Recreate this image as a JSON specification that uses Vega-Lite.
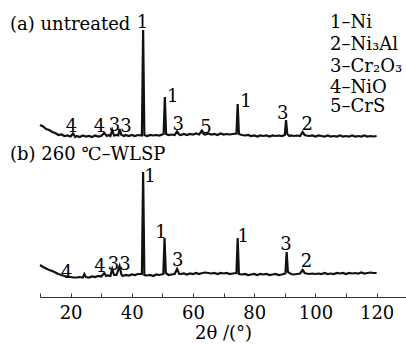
{
  "$schema": "https://vega.github.io/schema/vega-lite/v6.json",
  "autosize": {"type": "none"},
  "width": 366,
  "height": 297,
  "padding": {"left": 40, "top": 0, "right": 0, "bottom": 48},
  "background": "white",
  "config": {"view": {"stroke": null}, "font": "DejaVu Serif"},
  "datasets": {
    "trace": [
      {"s":"a","theta":10,"I":172},{"s":"a","theta":11,"I":170.5},{"s":"a","theta":12,"I":168},{"s":"a","theta":13,"I":167},{"s":"a","theta":14,"I":165},{"s":"a","theta":15,"I":164},{"s":"a","theta":16,"I":162},{"s":"a","theta":17,"I":162.5},{"s":"a","theta":18,"I":161},{"s":"a","theta":19,"I":161.5},{"s":"a","theta":20,"I":160.5},{"s":"a","theta":20.8,"I":163.5},{"s":"a","theta":21.5,"I":160},{"s":"a","theta":22,"I":161},{"s":"a","theta":23,"I":160},{"s":"a","theta":24,"I":161.5},{"s":"a","theta":25,"I":160.5},{"s":"a","theta":26,"I":161},{"s":"a","theta":27,"I":160},{"s":"a","theta":28,"I":161.5},{"s":"a","theta":29,"I":160.5},{"s":"a","theta":30,"I":161},{"s":"a","theta":31,"I":164},{"s":"a","theta":31.8,"I":161},{"s":"a","theta":32.5,"I":162},{"s":"a","theta":33,"I":161},{"s":"a","theta":33.6,"I":167},{"s":"a","theta":34.2,"I":161.5},{"s":"a","theta":35,"I":162},{"s":"a","theta":35.6,"I":161.5},{"s":"a","theta":36,"I":168},{"s":"a","theta":36.6,"I":162},{"s":"a","theta":37.5,"I":161},{"s":"a","theta":38,"I":162},{"s":"a","theta":39,"I":161},{"s":"a","theta":40,"I":162},{"s":"a","theta":41,"I":161},{"s":"a","theta":42,"I":162},{"s":"a","theta":43.3,"I":161.5},{"s":"a","theta":43.7,"I":267},{"s":"a","theta":44.1,"I":162},{"s":"a","theta":45,"I":161},{"s":"a","theta":46,"I":162},{"s":"a","theta":47,"I":161.5},{"s":"a","theta":48,"I":162},{"s":"a","theta":49,"I":161.5},{"s":"a","theta":50.4,"I":163},{"s":"a","theta":50.8,"I":200},{"s":"a","theta":51.2,"I":163},{"s":"a","theta":52,"I":162},{"s":"a","theta":53,"I":162.5},{"s":"a","theta":54,"I":162},{"s":"a","theta":54.8,"I":165.5},{"s":"a","theta":55.5,"I":162.5},{"s":"a","theta":56,"I":162},{"s":"a","theta":57,"I":163},{"s":"a","theta":58,"I":162},{"s":"a","theta":59,"I":163},{"s":"a","theta":60,"I":162.5},{"s":"a","theta":61,"I":163.5},{"s":"a","theta":62,"I":162.5},{"s":"a","theta":62.8,"I":166},{"s":"a","theta":63.5,"I":163},{"s":"a","theta":64,"I":162.5},{"s":"a","theta":65,"I":163.5},{"s":"a","theta":66,"I":162.5},{"s":"a","theta":67,"I":163},{"s":"a","theta":68,"I":162},{"s":"a","theta":69,"I":163.5},{"s":"a","theta":70,"I":162.5},{"s":"a","theta":71,"I":163},{"s":"a","theta":72,"I":162.5},{"s":"a","theta":73,"I":163},{"s":"a","theta":74.2,"I":163.5},{"s":"a","theta":74.6,"I":193},{"s":"a","theta":75,"I":163},{"s":"a","theta":76,"I":162},{"s":"a","theta":77,"I":161.5},{"s":"a","theta":78,"I":162},{"s":"a","theta":79,"I":161},{"s":"a","theta":80,"I":161.5},{"s":"a","theta":81,"I":160.5},{"s":"a","theta":82,"I":161.5},{"s":"a","theta":83,"I":161},{"s":"a","theta":84,"I":161.5},{"s":"a","theta":85,"I":160.5},{"s":"a","theta":86,"I":161.5},{"s":"a","theta":87,"I":161},{"s":"a","theta":88,"I":161.5},{"s":"a","theta":89,"I":161},{"s":"a","theta":90,"I":162},{"s":"a","theta":90.4,"I":177},{"s":"a","theta":90.8,"I":163},{"s":"a","theta":91.5,"I":161},{"s":"a","theta":92,"I":161.5},{"s":"a","theta":93,"I":161},{"s":"a","theta":94,"I":161.5},{"s":"a","theta":95,"I":161},{"s":"a","theta":95.8,"I":165},{"s":"a","theta":96.5,"I":162},{"s":"a","theta":97,"I":161.5},{"s":"a","theta":98,"I":161},{"s":"a","theta":99,"I":161.5},{"s":"a","theta":100,"I":160.5},{"s":"a","theta":101,"I":161.5},{"s":"a","theta":102,"I":161},{"s":"a","theta":103,"I":160.5},{"s":"a","theta":104,"I":161.5},{"s":"a","theta":105,"I":160.5},{"s":"a","theta":106,"I":161},{"s":"a","theta":107,"I":160.5},{"s":"a","theta":108,"I":161.5},{"s":"a","theta":109,"I":160.5},{"s":"a","theta":110,"I":161},{"s":"a","theta":111,"I":160.5},{"s":"a","theta":112,"I":161.5},{"s":"a","theta":113,"I":160.5},{"s":"a","theta":114,"I":161},{"s":"a","theta":115,"I":160.5},{"s":"a","theta":116,"I":161.5},{"s":"a","theta":117,"I":160.5},{"s":"a","theta":118,"I":161},{"s":"a","theta":119,"I":160.5},{"s":"a","theta":120,"I":161},
      {"s":"b","theta":10,"I":32},{"s":"b","theta":11,"I":30},{"s":"b","theta":12,"I":28.5},{"s":"b","theta":13,"I":27},{"s":"b","theta":14,"I":26},{"s":"b","theta":15,"I":24.5},{"s":"b","theta":16,"I":23},{"s":"b","theta":17,"I":22},{"s":"b","theta":18,"I":21},{"s":"b","theta":19,"I":20.5},{"s":"b","theta":20,"I":20},{"s":"b","theta":21,"I":19.5},{"s":"b","theta":22,"I":19.5},{"s":"b","theta":23,"I":20},{"s":"b","theta":24,"I":19.5},{"s":"b","theta":24.5,"I":23},{"s":"b","theta":25,"I":20},{"s":"b","theta":26,"I":19.5},{"s":"b","theta":27,"I":20.5},{"s":"b","theta":28,"I":20},{"s":"b","theta":29,"I":21},{"s":"b","theta":30,"I":20.5},{"s":"b","theta":31,"I":24},{"s":"b","theta":31.6,"I":21},{"s":"b","theta":32,"I":21.5},{"s":"b","theta":33,"I":21},{"s":"b","theta":33.6,"I":28},{"s":"b","theta":34.2,"I":22},{"s":"b","theta":35,"I":22},{"s":"b","theta":36,"I":31},{"s":"b","theta":36.6,"I":22.5},{"s":"b","theta":37,"I":21},{"s":"b","theta":38,"I":22},{"s":"b","theta":39,"I":21.5},{"s":"b","theta":40,"I":22.5},{"s":"b","theta":41,"I":22},{"s":"b","theta":42,"I":23},{"s":"b","theta":43.3,"I":23},{"s":"b","theta":43.7,"I":125},{"s":"b","theta":44.1,"I":22},{"s":"b","theta":45,"I":21.5},{"s":"b","theta":46,"I":22},{"s":"b","theta":47,"I":21},{"s":"b","theta":48,"I":22.5},{"s":"b","theta":49,"I":22},{"s":"b","theta":50.3,"I":23},{"s":"b","theta":50.7,"I":59},{"s":"b","theta":51.1,"I":24},{"s":"b","theta":52,"I":22},{"s":"b","theta":53,"I":22.5},{"s":"b","theta":54,"I":23},{"s":"b","theta":54.8,"I":28},{"s":"b","theta":55.5,"I":23},{"s":"b","theta":56,"I":23},{"s":"b","theta":57,"I":23.5},{"s":"b","theta":58,"I":22.5},{"s":"b","theta":59,"I":23.5},{"s":"b","theta":60,"I":23},{"s":"b","theta":61,"I":24},{"s":"b","theta":62,"I":23},{"s":"b","theta":63,"I":24},{"s":"b","theta":64,"I":24.5},{"s":"b","theta":65,"I":24},{"s":"b","theta":66,"I":23.5},{"s":"b","theta":67,"I":24},{"s":"b","theta":68,"I":23},{"s":"b","theta":69,"I":24},{"s":"b","theta":70,"I":23.5},{"s":"b","theta":71,"I":24},{"s":"b","theta":72,"I":23},{"s":"b","theta":73,"I":23.5},{"s":"b","theta":74.2,"I":24},{"s":"b","theta":74.6,"I":59},{"s":"b","theta":75,"I":23},{"s":"b","theta":76,"I":22.5},{"s":"b","theta":77,"I":23},{"s":"b","theta":78,"I":22},{"s":"b","theta":79,"I":22.5},{"s":"b","theta":80,"I":23},{"s":"b","theta":81,"I":22},{"s":"b","theta":82,"I":23},{"s":"b","theta":83,"I":22.5},{"s":"b","theta":84,"I":23},{"s":"b","theta":85,"I":22},{"s":"b","theta":86,"I":22.5},{"s":"b","theta":87,"I":23},{"s":"b","theta":88,"I":22},{"s":"b","theta":89,"I":22.5},{"s":"b","theta":90.2,"I":23.5},{"s":"b","theta":90.6,"I":45},{"s":"b","theta":91,"I":25},{"s":"b","theta":92,"I":23},{"s":"b","theta":93,"I":22.5},{"s":"b","theta":94,"I":23},{"s":"b","theta":95,"I":23.5},{"s":"b","theta":95.8,"I":27},{"s":"b","theta":96.5,"I":24},{"s":"b","theta":97,"I":23.5},{"s":"b","theta":98,"I":23},{"s":"b","theta":99,"I":23.5},{"s":"b","theta":100,"I":23},{"s":"b","theta":101,"I":23.5},{"s":"b","theta":102,"I":23},{"s":"b","theta":103,"I":24},{"s":"b","theta":104,"I":23},{"s":"b","theta":105,"I":23.5},{"s":"b","theta":106,"I":23},{"s":"b","theta":107,"I":24},{"s":"b","theta":108,"I":23.5},{"s":"b","theta":109,"I":24},{"s":"b","theta":110,"I":23},{"s":"b","theta":111,"I":24},{"s":"b","theta":112,"I":23.5},{"s":"b","theta":113,"I":24},{"s":"b","theta":114,"I":23.5},{"s":"b","theta":115,"I":24.5},{"s":"b","theta":116,"I":23.5},{"s":"b","theta":117,"I":24},{"s":"b","theta":118,"I":24.5},{"s":"b","theta":119,"I":24},{"s":"b","theta":120,"I":24}
    ],
    "peaks": [
      {"theta":43.5,"I":274,"label":"1"},{"theta":53.4,"I":200,"label":"1"},{"theta":77.3,"I":195,"label":"1"},{"theta":89.3,"I":183,"label":"3"},{"theta":97.3,"I":172,"label":"2"},{"theta":55.2,"I":172,"label":"3"},{"theta":64.2,"I":169,"label":"5"},{"theta":20.3,"I":170,"label":"4"},{"theta":29.4,"I":170,"label":"4"},{"theta":34.3,"I":171,"label":"3"},{"theta":38.1,"I":170,"label":"3"},
      {"theta":45.9,"I":120,"label":"1"},{"theta":49.5,"I":64,"label":"1"},{"theta":76.4,"I":60,"label":"1"},{"theta":90.4,"I":52,"label":"3"},{"theta":97.1,"I":35,"label":"2"},{"theta":55.0,"I":36,"label":"3"},{"theta":18.7,"I":24,"label":"4"},{"theta":29.6,"I":30,"label":"4"},{"theta":34.0,"I":32,"label":"3"},{"theta":37.8,"I":32,"label":"3"}
    ],
    "notes": [
      {"theta":0.2,"I":272,"label":"(a) untreated"},
      {"theta":0.2,"I":142,"label":"(b) 260 ℃–WLSP"},
      {"theta":104.8,"I":274,"label":"1–Ni"},
      {"theta":104.8,"I":252,"label":"2–Ni₃Al"},
      {"theta":104.8,"I":230,"label":"3–Cr₂O₃"},
      {"theta":104.8,"I":209,"label":"4–NiO"},
      {"theta":104.8,"I":190,"label":"5–CrS"}
    ]
  },
  "encoding": {
    "x": {"field": "theta", "type": "quantitative",
      "scale": {"domain": [10, 129.6], "nice": false, "zero": false},
      "axis": {"values": [10,20,30,40,50,60,70,80,90,100,110,120],
        "labelExpr": "datum.value % 20 == 0 ? datum.label : ''",
        "title": "2θ /(°)", "grid": false, "domainColor": "#333", "tickColor": "#333",
        "tickSize": -4, "labelFontSize": 18, "labelColor": "#000", "labelPadding": 11,
        "titleFontSize": 18, "titleFontWeight": "normal", "titleColor": "#000", "titlePadding": 2,
        "labelFont": "DejaVu Serif", "titleFont": "DejaVu Serif"}},
    "y": {"field": "I", "type": "quantitative",
      "scale": {"domain": [0, 297], "nice": false, "zero": false}, "axis": null}
  },
  "layer": [
    {"data": {"name": "trace"}, "mark": {"type": "line", "color": "#111", "strokeWidth": 2.2},
     "encoding": {"detail": {"field": "s"}}},
    {"data": {"name": "peaks"}, "mark": {"type": "text", "fontSize": 18, "color": "#000", "align": "center", "baseline": "middle", "clip": false},
     "encoding": {"text": {"field": "label"}}},
    {"data": {"name": "notes"}, "mark": {"type": "text", "fontSize": 18, "color": "#000", "align": "left", "baseline": "middle", "clip": false},
     "encoding": {"text": {"field": "label"}}}
  ]
}
